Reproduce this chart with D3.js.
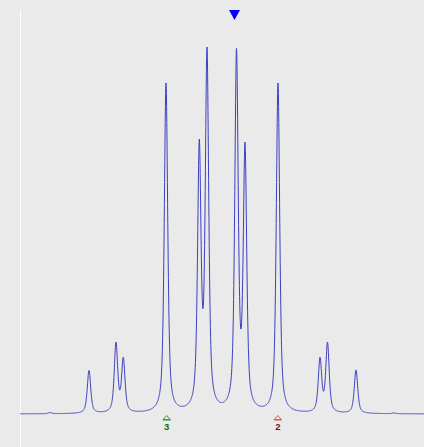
<!DOCTYPE html>
<html>
<head>
<meta charset="utf-8">
<script src="https://cdn.jsdelivr.net/npm/d3@7"></script>
<style>
  html, body { margin: 0; padding: 0; background: #eaeaea; }
  svg { display: block; }
</style>
</head>
<body>
<div id="chart"></div>
<script>
// Frequency offsets (Hz) of the resolved lines of the multiplet
const lineShift = [-172, -133, -106, -98.7, -56, -22.7, -15, 14.5, 23, 56, 98, 105.5, 134, 172];
// Apparent peak-top intensities (relative, tallest = 100)
const lineIntensity = [0.4, 11.9, 19.6, 15.5, 90.2, 74.9, 100, 99.6, 74.1, 90.2, 15.5, 19.6, 12, 0.3];
// Line shape: half width at half maximum (Hz) and Lorentzian fraction
const halfWidth = 2.05;
const lorentzFraction = 0.62;
// Spectral window (Hz) and intensity range
const shiftRange = [-202, 202];
const intensityRange = [0, 100];
// Cursor position and integration/marker labels
const cursorShift = 12.5;
const markerShift = [-55.3, 55.8];
const markerLabel = ["3", "2"];
const markerColor = ["#2aa02a", "#d06060"];
const markerTextColor = ["#0b6b12", "#6e1030"];

const W = 424, H = 447;
const svg = d3.select("#chart").append("svg")
  .attr("width", W).attr("height", H);

svg.append("rect").attr("width", W).attr("height", H).attr("fill", "#eaeaea");

const x = d3.scaleLinear().domain(shiftRange).range([20, 424]);
const y = d3.scaleLinear().domain(intensityRange).range([414, 47]);

// left frame line of the plot area
svg.append("line")
  .attr("x1", x(shiftRange[0]) + 0.5).attr("x2", x(shiftRange[0]) + 0.5)
  .attr("y1", 10).attr("y2", H)
  .attr("stroke", "#ffffff").attr("stroke-width", 1);

// pseudo-Voigt line shape, unit height
function shape(d) {
  const u = d / halfWidth;
  return lorentzFraction / (1 + u * u) + (1 - lorentzFraction) * Math.exp(-Math.LN2 * u * u);
}

// solve line amplitudes so the summed spectrum reaches the listed peak tops
let amp = lineIntensity.slice();
function spectrumAt(v, a) {
  let s = 0;
  for (let i = 0; i < lineShift.length; i++) s += a[i] * shape(v - lineShift[i]);
  return s;
}
for (let it = 0; it < 60; it++) {
  const next = amp.map((a, i) => a + (lineIntensity[i] - spectrumAt(lineShift[i], amp)));
  amp = next.map(a => Math.max(0, a));
}

const step = 0.2;
const pts = d3.range(shiftRange[0], shiftRange[1] + step / 2, step)
  .concat(lineShift)
  .sort((a, b) => a - b)
  .map(v => [v, spectrumAt(v, amp)]);

svg.append("path")
  .datum(pts)
  .attr("fill", "none")
  .attr("stroke", "#3d3fc0")
  .attr("stroke-width", 1)
  .attr("stroke-linejoin", "round")
  .attr("d", d3.line().x(d => x(d[0])).y(d => y(d[1])));

// cursor marker at the top
const cx = x(cursorShift);
svg.append("path")
  .attr("d", `M${cx - 5.5},10 L${cx + 5.5},10 L${cx},20 Z`)
  .attr("fill", "#0000ff");

// integration markers below the baseline
markerShift.forEach((v, i) => {
  const mx = x(v);
  const g = svg.append("g");
  g.append("path")
    .attr("d", `M${mx},415.5 L${mx + 3.5},419.5 L${mx - 3.5},419.5 Z`)
    .attr("fill", "none").attr("stroke", markerColor[i]).attr("stroke-width", 1);
  g.append("line")
    .attr("x1", mx - 4).attr("x2", mx + 4).attr("y1", 420).attr("y2", 420)
    .attr("stroke", markerColor[i]).attr("stroke-width", 1);
  g.append("text")
    .attr("x", mx).attr("y", 429.5)
    .attr("text-anchor", "middle")
    .attr("font-family", "Liberation Sans, Arial, sans-serif")
    .attr("font-weight", "bold")
    .attr("font-size", 9.5)
    .attr("fill", markerTextColor[i])
    .text(markerLabel[i]);
});
</script>
</body>
</html>
